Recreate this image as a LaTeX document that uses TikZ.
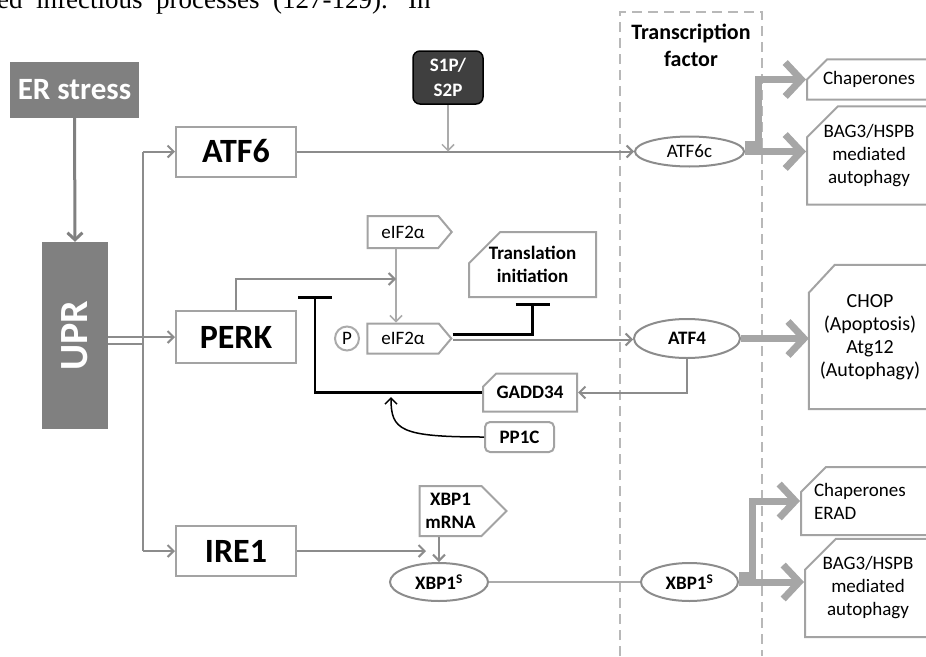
\documentclass[tikz,border=0pt]{standalone}
\usepackage{fontspec}
\setmainfont{Carlito}
\newfontfamily\pagefont{Liberation Serif}
\usetikzlibrary{positioning, arrows.meta, shapes.misc, shapes.symbols, shapes.geometric}
\definecolor{boxgrey}{HTML}{A3A3A3}
\definecolor{linegrey}{HTML}{8C8C8C}
\definecolor{thingrey}{HTML}{ABABAB}
\definecolor{fillgrey}{HTML}{808080}
\definecolor{darkfill}{HTML}{3F3F3F}
\definecolor{fatgrey}{HTML}{A6A6A6}
\definecolor{dashgrey}{HTML}{B8B8B8}
\newcommand{\smallfont}{\fontsize{19}{23}\selectfont}
\tikzset{
  headbox/.style={fill=fillgrey, text=white, inner sep=0pt},
  armbox/.style={draw=boxgrey, line width=2pt, minimum width=120pt, minimum height=50pt,
    font=\bfseries\fontsize{34}{40}\selectfont},
  cutbox/.style={chamfered rectangle, chamfered rectangle corners=north west, draw=boxgrey,
    line width=2pt, inner sep=0pt, font=\smallfont, align=center},
  tfoval/.style={ellipse, draw=linegrey, line width=2pt, inner sep=0pt, font=\smallfont},
  tagbox/.style={signal, signal to=east, draw=boxgrey, line width=2pt, inner sep=0pt,
    font=\smallfont, align=center},
  arm/.style={linegrey, line width=2pt, -{Straight Barb[length=6pt,width=12pt]}},
  thinarrow/.style={thingrey, line width=1.5pt, -{Straight Barb[length=6pt,width=12pt]}},
  inhib/.style={black, line width=2.5pt, -{Bar[width=34pt]}},
  fat/.style={fatgrey, line width=7pt, -{Straight Barb[length=16pt,width=34pt]}}
}
\begin{document}
\begin{tikzpicture}[x=1pt, y=-1pt]
\useasboundingbox (0,0) rectangle (926,656);
\clip (0,0) rectangle (926,656);
% cut page text at the top
\node[font=\pagefont\fontsize{27}{30}\selectfont, anchor=base west, inner sep=0pt] (pagetext) at (-3,8)
  {ed\ \ infectious\ \ processes\ \ (127-129).\ \ \ In};

% transcription factor frame
\draw[dashgrey, line width=2pt, dash pattern=on 10pt off 6pt] (620,656) -- (620,12) -- (762,12) -- (762,656);
\node[font=\bfseries\fontsize{22}{27}\selectfont, align=center] (tflabel) at (691,45) {Transcription\\factor};

% stress and UPR
\node[headbox, minimum width=129pt, minimum height=56pt, font=\bfseries\fontsize{31}{36}\selectfont] (er) at (74.5,90) {ER stress};
\node[headbox, minimum width=66pt, minimum height=187pt, font=\bfseries\fontsize{40}{44}\selectfont] (upr) at (75,335.5) {\rotatebox{90}{UPR}};
\draw[fillgrey, line width=3pt, -{Straight Barb[length=7pt,width=15pt]}] (er.south) -- (upr.north);

% three sensors
\node[armbox] (atf6) at (236,151.5) {ATF6};
\node[armbox, minimum height=52pt] (perk) at (236,337) {PERK};
\node[armbox] (ire1) at (236,551) {IRE1};
\coordinate (fork) at (143,344);
\draw[arm] (upr.east |- perk.west) -- (perk.west);
\draw[linegrey, line width=2pt] (upr.east |- fork) -- (fork);
\draw[linegrey, line width=2pt] (fork |- atf6.west) -- (fork |- ire1.west);
\draw[arm] (fork |- atf6.west) -- (atf6.west);
\draw[arm] (fork |- ire1.west) -- (ire1.west);

% ATF6 branch
\node[draw=black, fill=darkfill, rounded corners=7pt, line width=1.5pt, text=white, minimum width=70pt,
  minimum height=53pt, inner sep=0pt, align=center, font=\bfseries\fontsize{19}{25}\selectfont] (s1p) at (448,77.5) {S1P/\\S2P};
\node[tfoval, minimum width=109pt, minimum height=30pt] (atf6c) at (689.5,151.5) {ATF6c};
\draw[arm] (atf6.east) -- (atf6c.west);
\draw[thinarrow] (s1p.south) -- (s1p.south |- atf6.east);

% PERK branch
\node[tagbox, minimum width=84pt, minimum height=32pt, signal pointer angle=100] (eifa) at (403,232) {eIF2α};
\node[tagbox, minimum width=84pt, minimum height=30pt, signal pointer angle=100] (eifb) at (403,338.5) {eIF2α};
\node[circle, draw=thingrey, line width=2pt, minimum size=24pt, inner sep=0pt, font=\smallfont] (phos) at (347,338.5) {P};
\node[cutbox, minimum width=127pt, minimum height=65pt, chamfered rectangle xsep=24pt,
  chamfered rectangle ysep=13pt, font=\smallfont\bfseries] (transl) at (532.5,264.5) {Translation\\initiation};
\node[tfoval, minimum width=106pt, minimum height=39pt, font=\smallfont\bfseries] (atf4) at (687,338.5) {ATF4};
\node[cutbox, minimum width=94pt, minimum height=38pt, chamfered rectangle xsep=10pt,
  chamfered rectangle ysep=7pt, font=\smallfont\bfseries] (gadd) at (530,392.5) {GADD34};
\node[draw=boxgrey, line width=2pt, rounded corners=5pt, minimum width=69pt, minimum height=30pt,
  inner sep=0pt, font=\smallfont\bfseries] (pp1c) at (519.5,437) {PP1C};
\coordinate (eifx) at (396,279);
\coordinate (block) at (315,296);
\coordinate (pp1ctip) at (391,397);
\draw[thinarrow] (eifa.south -| eifx) -- (eifb.north -| eifx);
\draw[arm] (perk.north) |- (eifx);
\draw[arm] ([yshift=-1pt]eifb.east) -- ([yshift=-1pt]atf4.west);
\draw[inhib] ([yshift=4pt]eifb.east) -| ([yshift=-5pt]transl.south);
\draw[arm] (atf4.south) |- (gadd.east);
\draw[inhib] (gadd.west) -| (block);
\draw[black, line width=1.5pt, -{Straight Barb[length=6pt,width=12pt]}] (pp1c.west) .. controls (400,437) and (391,430) .. (pp1ctip);

% IRE1 branch
\node[tagbox, minimum width=87pt, minimum height=50pt, signal pointer angle=90, font=\smallfont\bfseries] (xbpm) at (450.5,511) {XBP1\\mRNA};
\node[tfoval, minimum width=98pt, minimum height=38pt, font=\smallfont\bfseries] (xbpa) at (439,582) {XBP1\textsuperscript{S}};
\node[tfoval, minimum width=97pt, minimum height=38pt, font=\smallfont\bfseries] (xbpb) at (689.5,582) {XBP1\textsuperscript{S}};
\coordinate (ire1tip) at (426,551);
\draw[arm] (ire1.east) -- (ire1tip);
\draw[arm] (xbpa.north |- xbpm.south) -- (xbpa.north);
\draw[thingrey, line width=2pt] (xbpa.east) -- (xbpb.west);

% target genes
\node[cutbox, minimum width=124pt, minimum height=39pt, chamfered rectangle xsep=13pt, chamfered rectangle ysep=12pt] (chap1) at (869,79.5) {Chaperones};
\node[cutbox, minimum width=124pt, minimum height=97pt, chamfered rectangle xsep=13pt, chamfered rectangle ysep=18pt] (bag1) at (869,155.5) {BAG3/HSPB\\mediated\\autophagy};
\node[minimum width=122pt, minimum height=144pt, inner sep=0pt, align=center,
  font=\fontsize{20}{23}\selectfont] (chop) at (870,337) {CHOP\\(Apoptosis)\\Atg12\\(Autophagy)};
\draw[boxgrey, line width=2pt] ([yshift=-28pt]chop.north west) -- ([xshift=26pt]chop.north west)
  -- (chop.north east) -- (chop.south east) -- (chop.south west) -- cycle;
\node[cutbox, minimum width=126pt, minimum height=68pt, chamfered rectangle xsep=13pt, chamfered rectangle ysep=12pt, align=left, text width=108pt] (chap2) at (868,501) {Chaperones\\ERAD};
\node[cutbox, minimum width=126pt, minimum height=96pt, chamfered rectangle xsep=13pt, chamfered rectangle ysep=18pt] (bag2) at (868,588) {BAG3/HSPB\\mediated\\autophagy};

% thick output arrows
\foreach \tf/\up/\low in {atf6c/chap1/bag1, xbpb/chap2/bag2}{
  \draw[fat] (\tf.east) -- (\tf.east -| \low.west);
  \draw[fat] ([yshift=7pt]\tf.east) -- ++(13,0) |- (\up.west);
}
\draw[fat] (atf4.east) -- (atf4.east -| chop.west);
\end{tikzpicture}
\end{document}
